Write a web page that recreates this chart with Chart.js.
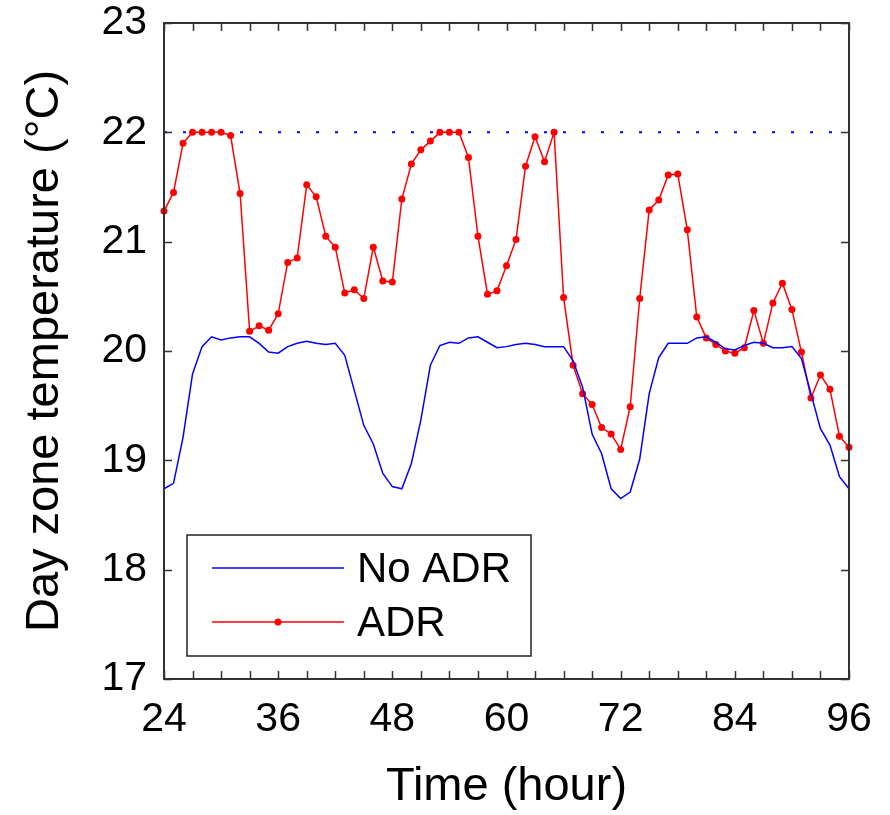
<!DOCTYPE html>
<html>
<head>
<meta charset="utf-8">
<script src="https://cdn.jsdelivr.net/npm/chart.js@4"></script>
<style>
html,body{margin:0;padding:0;background:#fff;}
#wrap{width:890px;height:815px;}
</style>
</head>
<body>
<div id="wrap"><canvas id="c" width="890" height="815"></canvas></div>
<script>
const hours = [24,25,26,27,28,29,30,31,32,33,34,35,36,37,38,39,40,41,42,43,44,45,46,47,48,49,50,51,52,53,54,55,56,57,58,59,60,61,62,63,64,65,66,67,68,69,70,71,72,73,74,75,76,77,78,79,80,81,82,83,84,85,86,87,88,89,90,91,92,93,94,95,96];
const noAdr = [18.74,18.79,19.21,19.79,20.04,20.13,20.10,20.12,20.13,20.13,20.07,19.99,19.98,20.04,20.07,20.09,20.07,20.06,20.07,19.96,19.64,19.32,19.15,18.88,18.76,18.74,18.97,19.37,19.87,20.05,20.08,20.07,20.12,20.13,20.08,20.03,20.04,20.06,20.07,20.06,20.04,20.04,20.04,19.91,19.67,19.24,19.06,18.74,18.65,18.71,19.01,19.61,19.94,20.07,20.07,20.07,20.12,20.13,20.08,20.02,20.01,20.05,20.08,20.07,20.03,20.03,20.04,19.93,19.61,19.29,19.14,18.85,18.74];
const adr = [21.28,21.45,21.90,22.0,22.0,22.0,22.0,21.97,21.44,20.18,20.23,20.19,20.34,20.81,20.85,21.52,21.41,21.05,20.95,20.53,20.56,20.48,20.95,20.64,20.63,21.39,21.71,21.84,21.92,22.0,22.0,22.0,21.77,21.05,20.52,20.55,20.78,21.02,21.69,21.96,21.73,22.0,20.49,19.87,19.61,19.51,19.30,19.24,19.10,19.49,20.48,21.29,21.38,21.61,21.62,21.11,20.31,20.12,20.06,20.00,19.98,20.03,20.37,20.07,20.44,20.62,20.38,19.99,19.57,19.78,19.65,19.22,19.12];
const setpointHours = [24, 96];
const setpoint = [22, 22];
const xTicks = [24, 36, 48, 60, 72, 84, 96];
const xMinorTicks = [27,30,33,39,42,45,51,54,57,63,66,69,75,78,81,87,90,93];
const yTicks = [17, 18, 19, 20, 21, 22, 23];
const seriesNames = ['No ADR', 'ADR'];
const xTitle = 'Time (hour)';
const yTitle = 'Day zone temperature (°C)';

const FONT = "'Liberation Sans', Arial, sans-serif";

const pts = (xs, ys) => xs.map((x, i) => ({x: x, y: ys[i]}));

const framePlugin = {
  id: 'frame',
  afterDatasetsDraw(chart) {
    const ctx = chart.ctx;
    const a = chart.chartArea;
    const xs = chart.scales.x, ys = chart.scales.y;
    ctx.save();
    ctx.strokeStyle = '#333';
    ctx.lineWidth = 2;
    ctx.strokeRect(a.left, a.top, a.right - a.left, a.bottom - a.top);
    const tl = 8;
    ctx.beginPath();
    xTicks.concat(xMinorTicks).forEach(v => {
      const px = Math.round(xs.getPixelForValue(v)) + 0.5;
      ctx.moveTo(px, a.bottom); ctx.lineTo(px, a.bottom - tl);
      ctx.moveTo(px, a.top); ctx.lineTo(px, a.top + tl);
    });
    yTicks.forEach(v => {
      const py = Math.round(ys.getPixelForValue(v)) + 0.5;
      ctx.moveTo(a.left, py); ctx.lineTo(a.left + tl, py);
      ctx.moveTo(a.right, py); ctx.lineTo(a.right - tl, py);
    });
    ctx.lineWidth = 1.5;
    ctx.stroke();

    // legend
    const lx = 187, ly = 535, lw = 344, lh = 121;
    ctx.fillStyle = '#fff';
    ctx.fillRect(lx, ly, lw, lh);
    ctx.strokeStyle = '#222';
    ctx.lineWidth = 1.5;
    ctx.strokeRect(lx, ly, lw, lh);
    const rows = [568, 622];
    const dsets = chart.data.datasets;
    [0, 1].forEach(i => {
      const ds = dsets[i];
      ctx.strokeStyle = ds.borderColor;
      ctx.lineWidth = ds.borderWidth;
      ctx.beginPath();
      ctx.moveTo(212, rows[i]); ctx.lineTo(344, rows[i]);
      ctx.stroke();
      if (ds.pointRadius > 0) {
        ctx.fillStyle = ds.pointBackgroundColor;
        ctx.beginPath();
        ctx.arc(278, rows[i], ds.pointRadius, 0, Math.PI * 2);
        ctx.fill();
      }
      ctx.fillStyle = '#000';
      ctx.font = '42px ' + FONT;
      ctx.textBaseline = 'middle';
      ctx.textAlign = 'left';
      ctx.fillText(seriesNames[i], 357, rows[i] + 2);
    });
    ctx.restore();
  }
};

new Chart(document.getElementById('c'), {
  type: 'line',
  data: {
    datasets: [
      {
        label: seriesNames[0],
        data: pts(hours, noAdr),
        borderColor: '#0000ff',
        borderWidth: 1.5,
        pointRadius: 0,
        tension: 0,
        clip: false
      },
      {
        label: seriesNames[1],
        data: pts(hours, adr),
        borderColor: '#ff0000',
        backgroundColor: '#ff0000',
        pointBackgroundColor: '#ff0000',
        pointBorderColor: '#ff0000',
        borderWidth: 1.5,
        pointRadius: 3.5,
        pointBorderWidth: 0,
        tension: 0,
        clip: false
      },
      {
        label: 'setpoint',
        data: pts(setpointHours, setpoint),
        borderColor: '#0000ff',
        borderWidth: 2,
        borderDash: [3, 16],
        pointRadius: 0,
        tension: 0
      }
    ]
  },
  options: {
    responsive: false,
    animation: false,
    devicePixelRatio: 1,
    layout: { padding: { left: 0, right: 41, top: 23, bottom: 0 } },
    plugins: { legend: { display: false }, tooltip: { enabled: false } },
    scales: {
      x: {
        type: 'linear',
        min: 24, max: 96,
        afterBuildTicks: s => { s.ticks = xTicks.map(v => ({value: v})); },
        afterFit: s => { s.height = 136; s.paddingLeft = 0; s.paddingRight = 0; },
        grid: { display: false, drawTicks: false },
        border: { display: false },
        ticks: { font: { family: FONT, size: 41 }, color: '#000', padding: 16, maxRotation: 0, autoSkip: false },
        title: { display: true, text: xTitle, font: { family: FONT, size: 47 }, color: '#000', padding: { top: 0, bottom: 0 } }
      },
      y: {
        min: 17, max: 23,
        afterBuildTicks: s => { s.ticks = yTicks.map(v => ({value: v})); },
        afterFit: s => { s.width = 164; s.paddingTop = 0; s.paddingBottom = 0; },
        grid: { display: false, drawTicks: false },
        border: { display: false },
        ticks: { font: { family: FONT, size: 41 }, color: '#000', padding: 17 },
        title: { display: true, text: yTitle, font: { family: FONT, size: 47 }, color: '#000', padding: { top: 17, bottom: 0 } }
      }
    }
  },
  plugins: [framePlugin]
});
</script>
</body>
</html>
